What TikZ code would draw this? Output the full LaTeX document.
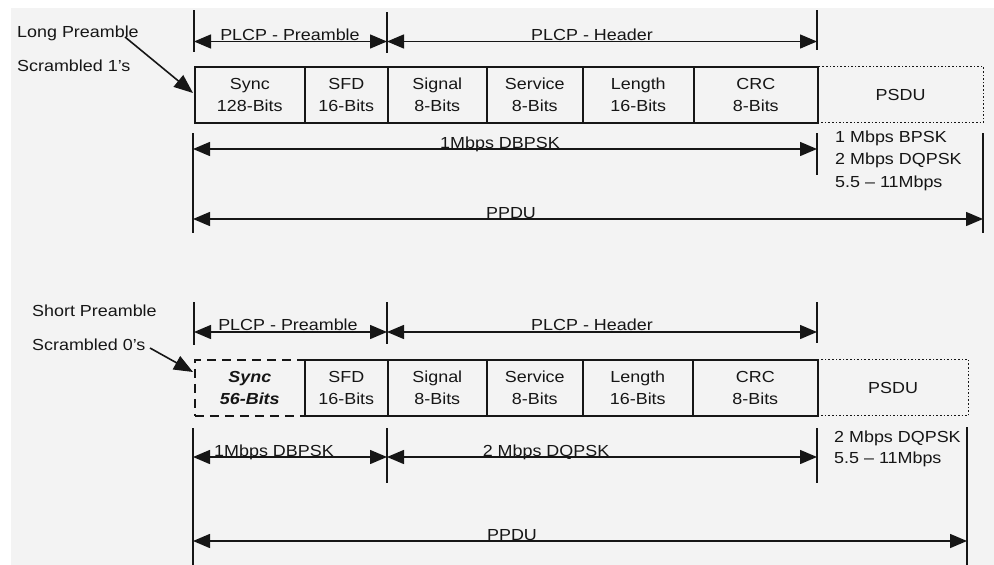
\documentclass[tikz,border=0pt]{standalone}
\usepackage{fontspec}
\setmainfont[FakeStretch=1.12]{Liberation Sans}
\usetikzlibrary{arrows.meta}
\definecolor{bgc}{HTML}{F3F3F3}
\definecolor{ink}{HTML}{161616}
\begin{document}
\begin{tikzpicture}[x=1pt,y=-1pt,
  every node/.style={font=\fontsize{16}{22}\selectfont, text=ink},
  cell/.style={draw=ink, line width=1.6pt, inner sep=0pt, minimum height=56pt, anchor=north west, align=center},
  dim/.style={draw=ink, line width=1.5pt, {Triangle[length=17pt,width=14pt]}-{Triangle[length=17pt,width=14pt]}},
  tickline/.style={draw=ink, line width=1.6pt},
  lbl/.style={anchor=base, inner sep=0pt},
  side/.style={anchor=base west, inner sep=0pt},
  pointer/.style={draw=ink, line width=1.6pt, -{Triangle[length=19pt,width=15pt]}}]
\useasboundingbox (0,0) rectangle (994,565);
\fill[white] (0,0) rectangle (994,565);
\fill[bgc] (11,8) rectangle (994,565);

% ---------------- Long preamble ----------------
\node[side] (lp) at (17,37.5) {Long Preamble};
\node[side] (s1) at (17,71) {Scrambled 1's};
\coordinate (lpa) at (125,37);
\coordinate (lpb) at (193,93);
\draw[pointer] (lpa) -- (lpb);

% ticks above
\coordinate (a1t) at (194,10); \coordinate (a1b) at (194,52);
\coordinate (a2t) at (387,12); \coordinate (a2b) at (387,53);
\coordinate (a3t) at (817,10); \coordinate (a3b) at (817,50);
\draw[tickline] (a1t) -- (a1b);
\draw[tickline] (a2t) -- (a2b);
\draw[tickline] (a3t) -- (a3b);
\coordinate (h1) at (194,41.5); \coordinate (h2) at (387,41.5); \coordinate (h3) at (817,41.5);
\draw[dim] (h1) -- (h2);
\draw[dim] (h2) -- (h3);
\node[lbl] (pp1) at (290,40) {PLCP - Preamble};
\node[lbl] (ph1) at (592,40) {PLCP - Header};

% frame cells
\node[cell, draw=ink, dotted, line width=1.2pt, minimum width=166pt] (psdu1) at (817,66) {PSDU};
\node[cell, minimum width=110pt] (sync1) at (194,66) {Sync\\128-Bits};
\node[cell, minimum width=83pt]  (sfd1)  at (304,66) {SFD\\16-Bits};
\node[cell, minimum width=99pt]  (sig1)  at (387,66) {Signal\\8-Bits};
\node[cell, minimum width=96pt]  (srv1)  at (486,66) {Service\\8-Bits};
\node[cell, minimum width=111pt] (len1)  at (582,66) {Length\\16-Bits};
\node[cell, minimum width=124pt] (crc1)  at (693,66) {CRC\\8-Bits};

% ticks below
\coordinate (b1t) at (193,133); \coordinate (b1b) at (193,233);
\coordinate (b2t) at (817,133); \coordinate (b2b) at (817,175);
\coordinate (b3t) at (983,133); \coordinate (b3b) at (983,233);
\draw[tickline] (b1t) -- (b1b);
\draw[tickline] (b2t) -- (b2b);
\draw[tickline] (b3t) -- (b3b);
\coordinate (r1) at (193,149); \coordinate (r2) at (817,149);
\draw[dim] (r1) -- (r2);
\node[lbl] (dbpsk1) at (500,148) {1Mbps DBPSK};
\coordinate (p1) at (193,219); \coordinate (p2) at (983,219);
\draw[dim] (p1) -- (p2);
\node[lbl] (ppdu1) at (511,218) {PPDU};
\node[side] (m1) at (835,142) {1 Mbps BPSK};
\node[side] (m2) at (835,164.5) {2 Mbps DQPSK};
\node[side] (m3) at (835,187) {5.5 -- 11Mbps};

% ---------------- Short preamble ----------------
\node[side] (sp) at (32,316.5) {Short Preamble};
\node[side] (s0) at (32,350) {Scrambled 0's};
\coordinate (spa) at (150,348);
\coordinate (spb) at (193,372);
\draw[pointer] (spa) -- (spb);

\coordinate (c1t) at (194,302); \coordinate (c1b) at (194,345);
\coordinate (c2t) at (387,302); \coordinate (c2b) at (387,344);
\coordinate (c3t) at (817,302); \coordinate (c3b) at (817,343);
\draw[tickline] (c1t) -- (c1b);
\draw[tickline] (c2t) -- (c2b);
\draw[tickline] (c3t) -- (c3b);
\coordinate (k1) at (194,332); \coordinate (k2) at (387,332); \coordinate (k3) at (817,332);
\draw[dim] (k1) -- (k2);
\draw[dim] (k2) -- (k3);
\node[lbl] (pp2) at (288,330) {PLCP - Preamble};
\node[lbl] (ph2) at (592,330) {PLCP - Header};

\node[cell, dotted, line width=1.2pt, minimum width=151pt] (psdu2) at (817,359) {PSDU};
\node[cell, dash pattern=on 9pt off 6pt, minimum width=110pt, font=\fontsize{16}{22}\selectfont\bfseries\itshape] (sync2) at (194,359) {Sync\\56-Bits};
\node[cell, minimum width=83pt]  (sfd2)  at (304,359) {SFD\\16-Bits};
\node[cell, minimum width=99pt]  (sig2)  at (387,359) {Signal\\8-Bits};
\node[cell, minimum width=96pt]  (srv2)  at (486,359) {Service\\8-Bits};
\node[cell, minimum width=110pt] (len2)  at (582,359) {Length\\16-Bits};
\node[cell, minimum width=125pt] (crc2)  at (692,359) {CRC\\8-Bits};

\coordinate (d1t) at (193,428); \coordinate (d1b) at (193,565);
\coordinate (d2t) at (387,428); \coordinate (d2b) at (387,483);
\coordinate (d3t) at (817,428); \coordinate (d3b) at (817,483);
\coordinate (d4t) at (967,427); \coordinate (d4b) at (967,565);
\draw[tickline] (d1t) -- (d1b);
\draw[tickline] (d2t) -- (d2b);
\draw[tickline] (d3t) -- (d3b);
\draw[tickline] (d4t) -- (d4b);
\coordinate (q1) at (193,457); \coordinate (q2) at (387,457); \coordinate (q3) at (817,457);
\draw[dim] (q1) -- (q2);
\draw[dim] (q2) -- (q3);
\node[lbl] (dbpsk2) at (274,456) {1Mbps DBPSK};
\node[lbl] (dqpsk2) at (546,456) {2 Mbps DQPSK};
\coordinate (u1) at (193,541); \coordinate (u2) at (967,541);
\draw[dim] (u1) -- (u2);
\node[lbl] (ppdu2) at (512,540) {PPDU};
\node[side] (n1) at (834,442) {2 Mbps DQPSK};
\node[side] (n2) at (834,463.5) {5.5 -- 11Mbps};
\end{tikzpicture}
\end{document}
